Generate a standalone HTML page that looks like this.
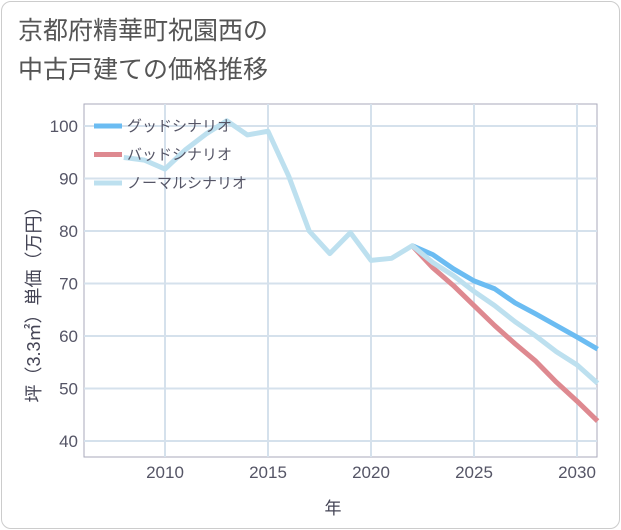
<!DOCTYPE html>
<html><head><meta charset="utf-8"><style>
html,body{margin:0;padding:0;background:#fff;}
body{width:621px;height:530px;overflow:hidden;font-family:"Liberation Sans","Noto Sans CJK JP",sans-serif;}
.frame{position:absolute;left:1px;top:1px;width:617px;height:526px;border:1px solid #ccc;border-radius:10px;}
</style></head><body>
<div class="frame"></div>
<svg id="c" width="621" height="530" style="position:absolute;left:0;top:0">
<text x="18" y="39" font-size="25" fill="#555" font-family="Liberation Sans,Noto Sans CJK JP,sans-serif">京都府精華町祝園西の</text>
<text x="18" y="78" font-size="25" fill="#555" font-family="Liberation Sans,Noto Sans CJK JP,sans-serif">中古戸建ての価格推移</text>
<g id="grid"></g><g id="lines"></g><g id="axes"></g>
<text x="333" y="514" font-size="17" fill="#445" text-anchor="middle" font-family="Liberation Sans,Noto Sans CJK JP,sans-serif">年</text>
<text transform="translate(40,300) rotate(-90)" font-size="18" fill="#445" text-anchor="middle" font-family="Liberation Sans,Noto Sans CJK JP,sans-serif">坪（3.3㎡）単価（万円）</text>
<g id="legend"></g>
</svg>
<script>
const normalYears=[2008,2009,2010,2011,2012,2013,2014,2015,2016,2017,2018,2019,2020,2021,2022,2023,2024,2025,2026,2027,2028,2029,2030,2031];
const normalValues=[94,93.5,91.8,95.5,98.5,101,98.3,99,90.5,80,75.7,79.7,74.4,74.8,77.2,74,71.5,68.5,65.8,62.7,60,57,54.5,51];
const projYears=[2022,2023,2024,2025,2026,2027,2028,2029,2030,2031];
const goodValues=[77.2,75.5,72.8,70.5,69,66.3,64.2,62,59.8,57.5];
const badValues=[77.2,73,69.6,65.8,62,58.5,55.2,51.2,47.6,43.8];
const xTicks=[2010,2015,2020,2025,2030];
const yTicks=[40,50,60,70,80,90,100];
const L=84,R=597,T=104,B=457;
const x=y=>165+(y-2010)*20.6;
const yv=v=>126+(100-v)*5.25;
const NS="http://www.w3.org/2000/svg";
function mk(tag,attrs,parent){const e=document.createElementNS(NS,tag);for(const k in attrs)e.setAttribute(k,attrs[k]);parent.appendChild(e);return e;}
const grid=document.getElementById('grid'),axes=document.getElementById('axes'),lines=document.getElementById('lines'),leg=document.getElementById('legend');
mk('rect',{x:L,y:T,width:R-L,height:B-T,fill:'none',stroke:'#aab'},grid);
for(const t of xTicks){
 const l=mk('line',{x1:x(t),x2:x(t),y1:T,y2:B,stroke:'#d5e1ec','stroke-width':2},grid);
 
 
 const tx=mk('text',{x:x(t),y:478,'font-size':17,fill:'#556','text-anchor':'middle'},axes);
 tx.textContent=t;
 
 
}
for(const t of yTicks){
 const l=mk('line',{x1:L,x2:R,y1:yv(t),y2:yv(t),stroke:'#d5e1ec','stroke-width':2},grid);
 
 
 const tx=mk('text',{x:78,y:yv(t)+6,'font-size':17,fill:'#556','text-anchor':'end'},axes);
 tx.textContent=t;
 
 
}
function series(xs,vs,color,name){
 const p=mk('polyline',{points:xs.map((a,i)=>x(a)+','+yv(vs[i])).join(' '),fill:'none',stroke:color,'stroke-width':5,'stroke-linejoin':'round'},lines);
 
 
}
series(projYears,goodValues,'#6bbcf2','good-scenario-line');
series(projYears,badValues,'#de8990','bad-scenario-line');
series(normalYears,normalValues,'#bde0ef','normal-scenario-line');
const legItems=[['グッドシナリオ','#6bbcf2'],['バッドシナリオ','#de8990'],['ノーマルシナリオ','#bde0ef']];
legItems.forEach((it,i)=>{
 const yy=126+i*28.5;
 const g=mk('g',{},leg);
 
 
 mk('line',{x1:94,x2:122,y1:yy,y2:yy,stroke:it[1],'stroke-width':5},g);
 const t=mk('text',{x:127,y:yy+5,'font-size':15,fill:'#556'},g);
 t.textContent=it[0];
});
</script>
</body></html>
